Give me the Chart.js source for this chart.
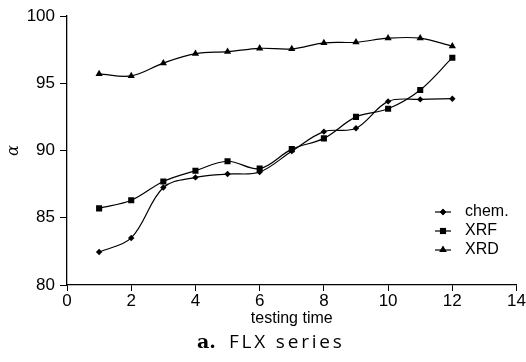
<!DOCTYPE html>
<html>
<head>
<meta charset="utf-8">
<script src="https://cdn.jsdelivr.net/npm/chart.js@4.4.1/dist/chart.umd.min.js"></script>
<style>
  html, body { margin: 0; padding: 0; background: #fff; }
  #wrap { width: 526px; height: 362px; position: relative; }
</style>
</head>
<body>
<div id="wrap"><canvas id="flx-chart" width="526" height="362"></canvas></div>
<script>
var testingTime = [1, 2, 3, 4, 5, 6, 7, 8, 9, 10, 11, 12];
var chemValues = [82.45, 83.5, 87.25, 88.0, 88.25, 88.4, 89.95, 91.4, 91.65, 93.65, 93.8, 93.85];
var xrfValues  = [85.7, 86.3, 87.7, 88.5, 89.2, 88.65, 90.1, 90.9, 92.5, 93.1, 94.5, 96.9];
var xrdValues  = [95.7, 95.55, 96.5, 97.2, 97.35, 97.6, 97.55, 98.0, 98.05, 98.35, 98.35, 97.75];
var seriesLabels = ['chem.', 'XRF', 'XRD'];
var xTicks = [0, 2, 4, 6, 8, 10, 12, 14];
var yTicks = [80, 85, 90, 95, 100];

var sansFamily = "'Liberation Sans', Arial, sans-serif";
var tickFont = { family: sansFamily, size: 17 };

function toPoints(values){
    return testingTime.map(function(t, i){ return { x: t, y: values[i] }; });
}

// legend drawn inside the plot like the original figure, plus the caption
var sideLegend = {
    id: 'sideLegend',
    afterDraw: function(chart){
        var ctx = chart.ctx;
        var x0 = 435, x1 = 451, tx = 465;
        var rows = [212, 231, 250];
        ctx.save();
        chart.data.datasets.forEach(function(ds, i){
            var y = rows[i];
            ctx.strokeStyle = '#000';
            ctx.lineWidth = 1.2;
            ctx.beginPath();
            ctx.moveTo(x0, y);
            ctx.lineTo(x1, y);
            ctx.stroke();
            ctx.fillStyle = '#000';
            Chart.helpers.drawPoint(ctx, {
                pointStyle: ds.pointStyle,
                radius: ds.pointRadius,
                borderWidth: 0,
                rotation: 0
            }, (x0 + x1) / 2, y);
            ctx.fill();
            ctx.font = "16px " + sansFamily;
            ctx.textBaseline = 'middle';
            ctx.textAlign = 'left';
            ctx.fillText(ds.label, tx, y);
        });
        // figure caption
        ctx.textBaseline = 'alphabetic';
        ctx.textAlign = 'left';
        ctx.font = "bold 19px 'DejaVu Serif', 'Liberation Serif'";
        ctx.fillText('a.', 197, 348);
        ctx.font = "19px 'Open Sans', 'DejaVu Sans'";
        ctx.letterSpacing = '2.8px';
        ctx.fillText('FLX series', 229, 348);
        ctx.restore();
    }
};

var chartCanvas = document.getElementById('flx-chart');
var flxChart = new Chart(chartCanvas, {
    type: 'line',
    data: {
        datasets: [
            { label: seriesLabels[0], data: toPoints(chemValues), pointStyle: 'rectRot', pointRadius: 3.2 },
            { label: seriesLabels[1], data: toPoints(xrfValues), pointStyle: 'rect', pointRadius: 4.3 },
            { label: seriesLabels[2], data: toPoints(xrdValues), pointStyle: 'triangle', pointRadius: 4.2 }
        ].map(function(ds){
            ds.borderColor = '#000';
            ds.backgroundColor = '#000';
            ds.pointBackgroundColor = '#000';
            ds.pointBorderColor = '#000';
            ds.pointBorderWidth = 0;
            ds.borderWidth = 1.2;
            ds.tension = 0.35;
            ds.fill = false;
            return ds;
        })
    },
    options: {
        responsive: false,
        animation: false,
        events: [],
        layout: { padding: { left: 0, right: 9, top: 16, bottom: 0 } },
        plugins: {
            legend: { display: false },
            tooltip: { enabled: false }
        },
        scales: {
            x: {
                type: 'linear',
                min: 0,
                max: 14,
                afterBuildTicks: function(s){ s.ticks = xTicks.map(function(v){ return { value: v }; }); },
                afterFit: function(s){ s.height = 77; },
                grid: { display: true, drawOnChartArea: false, drawTicks: true, tickLength: 6, tickColor: '#000' },
                border: { color: '#000', width: 1.3 },
                ticks: { color: '#000', font: tickFont, padding: 0, maxRotation: 0 },
                title: {
                    display: true,
                    text: 'testing time',
                    color: '#000',
                    font: { family: sansFamily, size: 16 },
                    padding: { top: 0, bottom: 34 }
                }
            },
            y: {
                min: 80,
                max: 100,
                afterBuildTicks: function(s){ s.ticks = yTicks.map(function(v){ return { value: v }; }); },
                afterFit: function(s){ s.width = 67; },
                grid: { display: true, drawOnChartArea: false, drawTicks: true, tickLength: 7, tickColor: '#000' },
                border: { color: '#000', width: 1.3 },
                ticks: { color: '#000', font: tickFont, padding: 5 },
                title: {
                    display: true,
                    text: 'α',
                    color: '#000',
                    font: { family: "'DejaVu Serif', 'Liberation Serif'", style: 'italic', size: 16 },
                    padding: { top: 4, bottom: 0 }
                }
            }
        }
    },
    plugins: [sideLegend]
});
</script>
</body>
</html>
